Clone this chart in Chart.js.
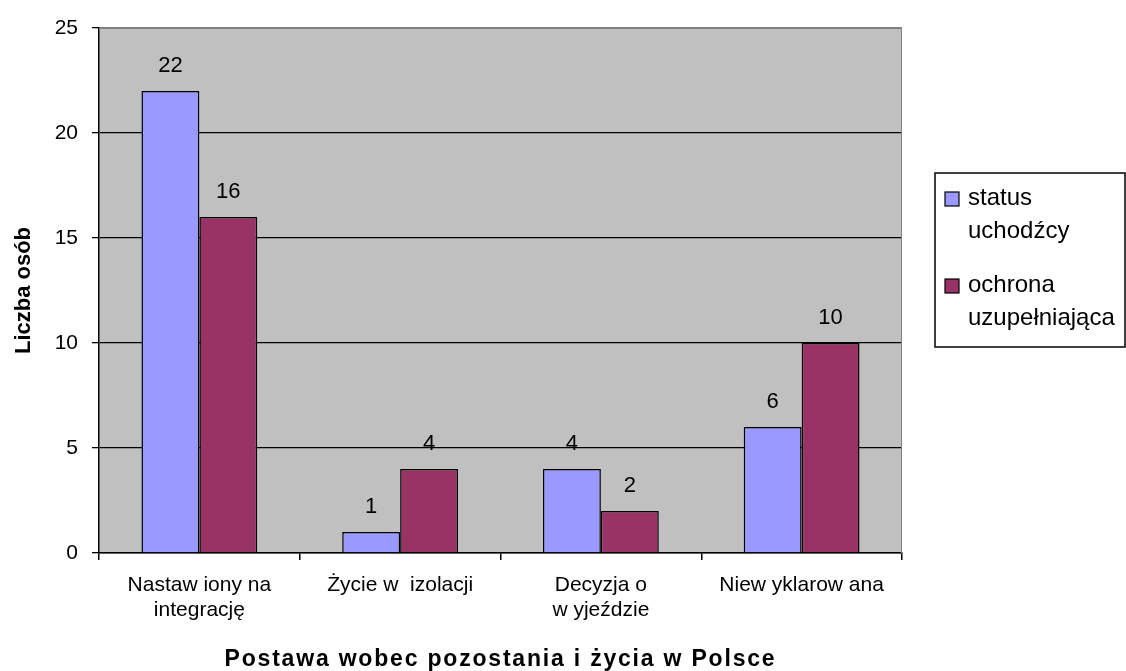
<!DOCTYPE html>
<html>
<head>
<meta charset="utf-8">
<script src="https://cdn.jsdelivr.net/npm/chart.js@4/dist/chart.umd.min.js"></script>
<style>
  html, body { margin: 0; padding: 0; background: #ffffff; }
  canvas { display: block; }
</style>
</head>
<body>
<canvas id="wykres" width="1126" height="671"></canvas>
<script>
// Dane
const kategorie = [
    ['Nastaw iony na', 'integrację'],
    ['Życie w  izolacji'],
    ['Decyzja o', 'w yjeździe'],
    ['Niew yklarow ana']
];
const statusUchodzcy = [22, 1, 4, 6];
const ochronaUzupelniajaca = [16, 4, 2, 10];
const nazwySerii = [['status', 'uchodźcy'], ['ochrona', 'uzupełniająca']];
const kolorySerii = ['#9999FF', '#993366'];
const tytulX = 'Postawa wobec pozostania i życia w Polsce';
const tytulY = 'Liczba osób';
const osY = { min: 0, max: 25, krok: 5 };

const FONT = "'Liberation Sans', Arial, sans-serif";

// Tło wykresu (szary obszar kreślenia)
const tloPlugin = {
    id: 'tlo',
    beforeDraw(chart) {
        const { ctx, chartArea: a } = chart;
        ctx.save();
        ctx.fillStyle = '#ffffff';
        ctx.fillRect(0, 0, chart.width, chart.height);
        ctx.fillStyle = '#C0C0C0';
        ctx.fillRect(a.left, a.top, a.right - a.left, a.bottom - a.top);
        ctx.restore();
    },
    beforeDatasetsDraw(chart) {
        const { ctx, chartArea: a } = chart;
        ctx.save();
        ctx.strokeStyle = '#808080';
        ctx.lineWidth = 1;
        ctx.beginPath();
        ctx.moveTo(a.left, a.top + 0.5);
        ctx.lineTo(a.right - 0.5, a.top + 0.5);
        ctx.lineTo(a.right - 0.5, a.bottom);
        ctx.stroke();
        ctx.restore();
    }
};

// Etykiety wartości nad słupkami
const etykietyPlugin = {
    id: 'etykiety',
    afterDatasetsDraw(chart) {
        const ctx = chart.ctx;
        ctx.save();
        ctx.font = '22px ' + FONT;
        ctx.fillStyle = '#000000';
        ctx.textAlign = 'center';
        ctx.textBaseline = 'alphabetic';
        chart.data.datasets.forEach((ds, i) => {
            chart.getDatasetMeta(i).data.forEach((bar, j) => {
                ctx.fillText(String(ds.data[j]), bar.x, bar.y - 19);
            });
        });
        ctx.restore();
    }
};

// Tytuł osi X i legenda
const opisPlugin = {
    id: 'opis',
    afterDraw(chart) {
        const { ctx, chartArea: a } = chart;
        ctx.save();
        ctx.fillStyle = '#000000';
        ctx.font = 'bold 23px ' + FONT;
        ctx.textAlign = 'center';
        ctx.textBaseline = 'alphabetic';
        ctx.letterSpacing = '1.8px';
        ctx.fillText(tytulX, (a.left + a.right) / 2, 666);
        ctx.letterSpacing = '0px';

        // legenda
        const lx = 935, ly = 173, lw = 190, lh = 174;
        ctx.strokeStyle = '#000000';
        ctx.lineWidth = 1.5;
        ctx.strokeRect(lx, ly, lw, lh);
        ctx.font = '24px ' + FONT;
        ctx.textAlign = 'left';
        chart.data.datasets.forEach((ds, i) => {
            const baza = 205 + i * 87;
            ctx.fillStyle = ds.backgroundColor;
            ctx.fillRect(945, baza - 13, 14, 14);
            ctx.lineWidth = 1.2;
            ctx.strokeRect(945, baza - 13, 14, 14);
            ctx.fillStyle = '#000000';
            nazwySerii[i].forEach((linia, k) => {
                ctx.fillText(linia, 968, baza + k * 33);
            });
        });
        ctx.restore();
    }
};

const wykres = new Chart(document.getElementById('wykres'), {
    type: 'bar',
    data: {
        labels: kategorie,
        datasets: [
            {
                label: nazwySerii[0].join(' '),
                data: statusUchodzcy,
                backgroundColor: kolorySerii[0],
                borderColor: '#000000',
                borderWidth: 1.5,
                categoryPercentage: 0.577,
                barPercentage: 1.0
            },
            {
                label: nazwySerii[1].join(' '),
                data: ochronaUzupelniajaca,
                backgroundColor: kolorySerii[1],
                borderColor: '#000000',
                borderWidth: 1.5,
                categoryPercentage: 0.577,
                barPercentage: 1.0
            }
        ]
    },
    options: {
        responsive: false,
        animation: false,
        layout: { padding: { left: 0, right: 224, top: 28, bottom: 0 } },
        plugins: {
            legend: { display: false },
            tooltip: { enabled: false }
        },
        scales: {
            x: {
                offset: true,
                grid: {
                    offset: true,
                    drawOnChartArea: false,
                    color: '#000000',
                    tickLength: 7,
                    lineWidth: 1.5
                },
                border: { color: '#000000', width: 1.5 },
                ticks: {
                    color: '#000000',
                    font: { family: FONT, size: 21, lineHeight: 1.17 },
                    padding: 13,
                    maxRotation: 0,
                    autoSkip: false
                },
                afterFit(s) { s.height = 118; }
            },
            y: {
                min: osY.min,
                max: osY.max,
                grid: {
                    color: c => (c.tick && c.tick.value === osY.max) ? '#808080' : '#000000',
                    tickColor: '#000000',
                    tickLength: 7,
                    lineWidth: 1.3
                },
                border: { color: '#000000', width: 1.5 },
                ticks: {
                    stepSize: osY.krok,
                    color: '#000000',
                    font: { family: FONT, size: 21 },
                    padding: 14
                },
                title: {
                    display: true,
                    text: tytulY,
                    color: '#000000',
                    font: { family: FONT, size: 22, weight: 'bold' },
                    padding: { top: 11, bottom: 0 }
                },
                afterFit(s) { s.width = 99; }
            }
        }
    },
    plugins: [tloPlugin, etykietyPlugin, opisPlugin]
});
</script>
</body>
</html>
